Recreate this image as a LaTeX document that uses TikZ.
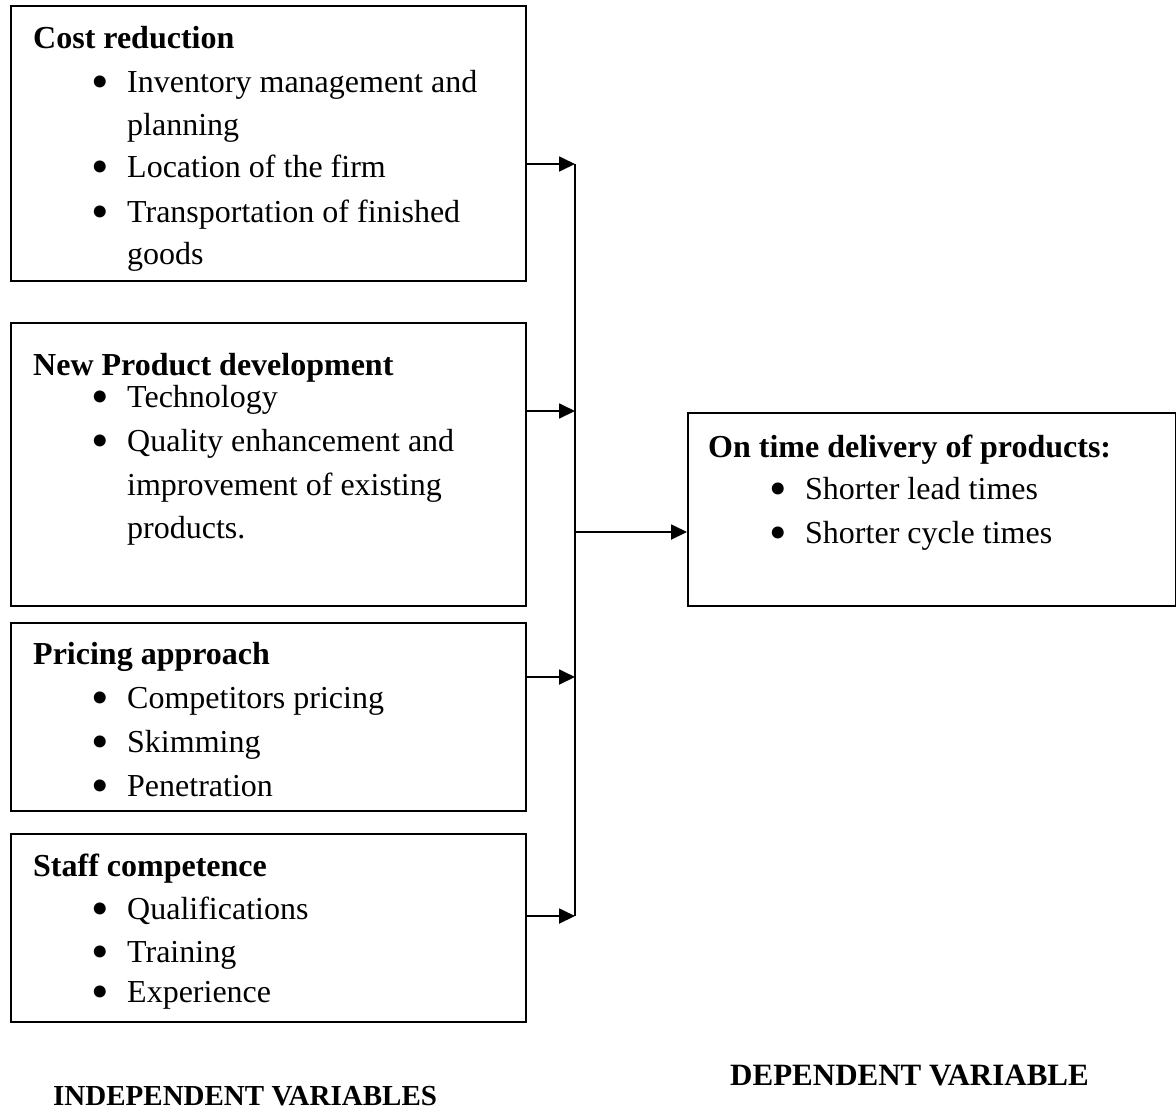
\documentclass[tikz,border=0pt]{standalone}
\usepackage{fontspec}
\setmainfont{Liberation Serif}
\usetikzlibrary{arrows.meta}
\tikzset{
  box/.style={draw, line width=1.8pt, anchor=north west, inner sep=0pt},
  txt/.style={anchor=base west, inner sep=0pt, font=\fontsize{32}{38}\selectfont},
  ttl/.style={txt, font=\fontsize{32}{38}\selectfont\bfseries},
  bul/.style={anchor=base, inner sep=0pt, font=\fontsize{50}{50}\selectfont, yshift=-6pt, text height=22pt, text depth=0pt},
  conn/.style={line width=1.8pt},
  arr/.style={conn, -{Triangle[length=16pt,width=15pt]}},
  captxt/.style={anchor=base west, inner sep=0pt}
}
\begin{document}
\begin{tikzpicture}[x=1pt,y=-1pt]
\useasboundingbox (0,0) rectangle (1176,1109);
% boxes
\node[box, minimum width=515pt, minimum height=275pt] (box1) at (10,5) {};
\node[box, minimum width=515pt, minimum height=283pt] (box2) at (10,322) {};
\node[box, minimum width=515pt, minimum height=188pt] (box3) at (10,622) {};
\node[box, minimum width=515pt, minimum height=188pt] (box4) at (10,833) {};
\node[box, minimum width=488pt, minimum height=193pt] (dep) at (687,412) {};
% box 1
\node[ttl] (t1) at (33,48) {Cost reduction};
\node[bul] (b1a) at (100,92) {\textbullet};
\node[txt] (l1a) at (127,92) {Inventory management and};
\node[txt] (l1b) at (127,135) {planning};
\node[bul] (b1b) at (100,177) {\textbullet};
\node[txt] (l1c) at (127,177) {Location of the firm};
\node[bul] (b1c) at (100,222) {\textbullet};
\node[txt] (l1d) at (127,222) {Transportation of finished};
\node[txt] (l1e) at (127,264) {goods};
% box 2
\node[ttl] (t2) at (33,375) {New Product development};
\node[bul] (b2a) at (100,407) {\textbullet};
\node[txt] (l2a) at (127,407) {Technology};
\node[bul] (b2b) at (100,451) {\textbullet};
\node[txt] (l2b) at (127,451) {Quality enhancement and};
\node[txt] (l2c) at (127,495) {improvement of existing};
\node[txt] (l2d) at (127,538) {products.};
% box 3
\node[ttl] (t3) at (33,664) {Pricing approach};
\node[bul] (b3a) at (100,708) {\textbullet};
\node[txt] (l3a) at (127,708) {Competitors pricing};
\node[bul] (b3b) at (100,752) {\textbullet};
\node[txt] (l3b) at (127,752) {Skimming};
\node[bul] (b3c) at (100,796) {\textbullet};
\node[txt] (l3c) at (127,796) {Penetration};
% box 4
\node[ttl] (t4) at (33,876) {Staff competence};
\node[bul] (b4a) at (100,919) {\textbullet};
\node[txt] (l4a) at (127,919) {Qualifications};
\node[bul] (b4b) at (100,962) {\textbullet};
\node[txt] (l4b) at (127,962) {Training};
\node[bul] (b4c) at (100,1002) {\textbullet};
\node[txt] (l4c) at (127,1002) {Experience};
% dependent box
\node[ttl] (t5) at (708,457) {On time delivery of products:};
\node[bul] (b5a) at (778,499) {\textbullet};
\node[txt] (l5a) at (805,499) {Shorter lead times};
\node[bul] (b5b) at (778,543) {\textbullet};
\node[txt] (l5b) at (805,543) {Shorter cycle times};
% captions
\node[captxt, font=\fontsize{29}{32}\selectfont\bfseries] (capi) at (53,1105) {INDEPENDENT VARIABLES};
\node[captxt, font=\fontsize{31}{36}\selectfont\bfseries] (capd) at (730,1085) {DEPENDENT VARIABLE};
% connectors
\coordinate (s1) at (575,164);
\coordinate (s2) at (575,411);
\coordinate (s3) at (575,677);
\coordinate (s4) at (575,916);
\coordinate (s0) at (575,532);
\draw[conn] (s1) -- (s4);
\draw[arr] (box1.east |- s1) -- (s1);
\draw[arr] (box2.east |- s2) -- (s2);
\draw[arr] (box3.east |- s3) -- (s3);
\draw[arr] (box4.east |- s4) -- (s4);
\draw[arr] (s0) -- (dep.west |- s0);
\end{tikzpicture}
\end{document}
